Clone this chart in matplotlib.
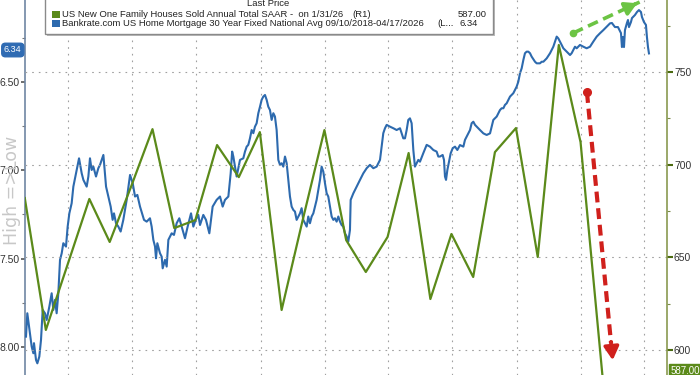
import matplotlib
matplotlib.use('Agg')
import matplotlib.pyplot as plt
import pandas as pd
from matplotlib.patches import Rectangle

BASE = pd.Timestamp('2024-01-01')

# US New One Family Houses Sold, SAAR (thousands), month-end dates
sales_months = pd.date_range('2023-10-31', periods=28, freq='ME')
sales_values = [682.0, 610.8, 646.1, 681.5, 658.3, 688.7, 719.2, 665.8, 670.1, 710.6,
                693.3, 717.6, 621.6, 670.1, 718.7, 659.3, 642.1, 661.0, 706.3, 627.5,
                662.6, 639.4, 706.8, 719.8, 650.2, 764.6, 712.2, 587.0]

# Bankrate 30Y fixed mortgage rate: days since 2024-01-01 and rate (%)
rate_days = [-60.3, -58.4, -52.2, -49.8, -48.9, -46.0, -44.1, -41.3, -38.9, -36.5,
             -33.2, -30.8, -27.0, -23.7, -21.3, -18.9, -16.6, -14.2, -11.8, -9.4,
             -7.1, -3.3, -0.9, 1.5, 4.8, 7.2, 12.0, 15.3, 19.1, 21.5,
             26.2, 28.6, 30.9, 33.3, 35.7, 39.5, 42.8, 45.2, 50.0, 53.8,
             57.1, 60.4, 63.2, 65.1, 68.0, 71.3, 74.6, 78.4, 83.2, 88.0,
             91.8, 95.1, 98.4, 102.2, 107.9, 111.7, 116.4, 118.8, 121.2, 123.6,
             125.0, 126.9, 130.7, 133.1, 134.5, 137.8, 140.2, 142.6, 147.3, 150.6,
             154.4, 158.2, 161.6, 166.3, 170.1, 174.9, 178.2, 181.5, 185.3, 187.7,
             192.4, 196.2, 201.0, 205.7, 211.4, 216.2, 220.0, 223.3, 228.1, 231.4,
             233.5,
             235.2, 239.9, 244.7, 249.4, 251.8, 254.2, 256.5, 258.9, 261.3, 263.7,
             266.0, 268.4, 270.8, 273.2, 275.5, 277.9, 280.3, 282.7, 285.0, 287.4,
             289.8, 292.2, 294.5, 296.9, 299.3, 301.7, 304.0, 306.4, 308.8, 311.2,
             313.5, 315.9, 318.3, 320.7, 323.0, 325.4, 327.8, 330.2, 332.5, 334.9,
             337.3, 339.7, 342.0, 344.4, 346.8, 349.2, 351.5, 353.9, 356.3, 358.7,
             361.0, 363.4, 365.8, 368.2, 370.5, 372.9, 375.3, 377.7, 380.0, 382.4,
             384.8, 387.2, 389.5, 391.9, 394.3, 396.7, 399.0, 401.4, 402.4, 406.2,
             410.9, 415.7, 420.4, 425.2, 429.9, 434.7, 439.4, 444.2, 446.5, 448.9,
             451.3, 453.7, 458.4, 463.2, 467.9, 472.7, 477.4, 479.8, 482.2, 484.5,
             486.9, 489.3, 491.7, 494.0, 496.4, 498.8, 501.2, 505.9, 510.7, 515.4,
             520.2, 524.9, 527.3,
             529.7, 533.5, 535.4, 536.8, 538.3, 540.2, 543.0, 544.9, 547.8, 551.1,
             554.4, 558.2, 563.0, 565.3, 567.7, 570.1, 572.5, 574.8, 577.2, 579.6,
             582.0, 586.7, 591.5, 596.2, 601.0, 603.3, 605.7, 610.5, 612.8, 615.2,
             617.6, 620.0, 622.3, 624.7, 627.1, 629.5, 634.2, 638.9, 641.3, 643.7,
             646.1, 648.5, 650.8, 653.2, 655.6, 658.0, 660.3, 665.1, 667.5, 672.2,
             674.6, 677.0, 681.7, 686.5, 691.2, 693.6, 696.0, 698.3, 700.7, 703.1,
             705.5, 710.2, 715.0, 717.3, 719.7, 722.1, 724.5, 729.2, 734.0, 738.7,
             743.5, 748.2, 753.0, 757.7, 762.5, 767.2, 772.0,
             774.7, 779.0, 783.3, 787.6, 789.0, 790.4, 791.9, 793.3, 796.1, 797.6,
             799.0, 801.8, 803.3, 807.5, 810.4, 813.2, 816.1, 817.5, 820.4, 823.2,
             824.6, 826.1, 827.5]
rate_values = [7.941, 7.809, 7.997, 8.035, 7.978, 8.073, 8.092, 8.054, 7.960, 7.790,
               7.809, 7.847, 7.771, 7.696, 7.790, 7.733, 7.809, 7.696, 7.507, 7.470,
               7.413, 7.432, 7.319, 7.244, 7.187, 7.093, 6.999, 6.933, 7.018, 7.055,
               7.093, 7.036, 6.933, 6.999, 6.980, 7.036, 6.989, 6.970, 6.914, 7.093,
               7.149, 7.206, 7.281, 7.244, 7.300, 7.319, 7.347, 7.281, 7.168, 7.027,
               7.074, 7.149, 7.140, 7.206, 7.281, 7.291, 7.272, 7.319, 7.394, 7.432,
               7.498, 7.413, 7.470, 7.489, 7.555, 7.507, 7.545, 7.394, 7.357, 7.366,
               7.300, 7.272, 7.319, 7.385, 7.319, 7.244, 7.319, 7.281, 7.253, 7.310,
               7.253, 7.281, 7.357, 7.206, 7.168, 7.149, 7.206, 7.168, 7.149, 7.018,
               6.895,
               6.923, 7.036, 6.942, 6.933, 6.895, 6.867, 6.857, 6.820, 6.773, 6.791,
               6.754, 6.735, 6.678, 6.641, 6.603, 6.584, 6.575, 6.603, 6.641, 6.660,
               6.716, 6.678, 6.697, 6.773, 6.942, 6.970, 6.961, 6.980, 6.923, 6.961,
               7.055, 7.149, 7.206, 7.225, 7.234, 7.281, 7.262, 7.244, 7.215, 7.281,
               7.300, 7.319, 7.262, 7.300, 7.262, 7.244, 7.206, 7.168, 7.112, 7.055,
               6.980, 7.008, 7.074, 7.131, 7.149, 7.206, 7.262, 7.281, 7.272, 7.291,
               7.262, 7.291, 7.310, 7.319, 7.357, 7.375, 7.404, 7.338, 7.168, 7.131,
               7.093, 7.055, 7.018, 6.989, 6.970, 6.989, 6.980, 6.942, 6.867, 6.791,
               6.763, 6.744, 6.754, 6.763, 6.773, 6.763, 6.820, 6.820, 6.773, 6.716,
               6.707, 6.735, 6.886, 6.980, 6.961, 6.942, 6.952, 6.904, 6.857, 6.867,
               6.886, 6.895, 6.923,
               6.923, 6.914, 6.942, 7.036, 7.055, 6.999, 6.942, 6.905, 6.876, 6.867,
               6.886, 6.858, 6.867, 6.829, 6.810, 6.792, 6.773, 6.735, 6.726, 6.744,
               6.754, 6.773, 6.792, 6.801, 6.792, 6.754, 6.716, 6.697, 6.679, 6.660,
               6.650, 6.650, 6.631, 6.622, 6.603, 6.584, 6.565, 6.528, 6.500, 6.452,
               6.424, 6.377, 6.339, 6.330, 6.330, 6.339, 6.358, 6.387, 6.396, 6.396,
               6.387, 6.387, 6.368, 6.339, 6.302, 6.273, 6.245, 6.255, 6.273, 6.292,
               6.311, 6.330, 6.349, 6.339, 6.321, 6.302, 6.311, 6.292, 6.302, 6.311,
               6.302, 6.273, 6.245, 6.226, 6.208, 6.189, 6.170,
               6.168, 6.191, 6.191, 6.225, 6.304, 6.247, 6.304, 6.208, 6.168, 6.151,
               6.191, 6.163, 6.140, 6.123, 6.106, 6.095, 6.106, 6.134, 6.163, 6.179,
               6.247, 6.304, 6.340]
rate_dates = BASE + pd.to_timedelta(rate_days, unit='D')

left_ticks = [6.5, 7.0, 7.5, 8.0]
right_ticks = [600, 650, 700, 750]
grid_dates = pd.date_range('2024-01-01', '2026-04-01', freq='QS')

BLUE = '#2d6aae'
GREEN = '#5b8a1a'
GRID = '#a0a0a0'
TXT = '#333333'
FONT = 'Liberation Sans'

fig = plt.figure(figsize=(7, 3.75), dpi=100)
ax = fig.add_axes([25 / 700, 0, 642 / 700, 1])
ax2 = ax.twinx()

ax.set_xlim(BASE + pd.Timedelta(days=-61.7), BASE + pd.Timedelta(days=853.2))
ax.set_ylim(8.158, 6.038)
ax2.set_ylim(586.5, 788.9)

ax.plot(rate_dates, rate_values, color=BLUE, lw=1.5, zorder=3)
ax2.plot(sales_months, sales_values, color=GREEN, lw=1.6, zorder=4)

# grids
ax.set_xticks(grid_dates)
ax.tick_params(axis='x', length=0, labelbottom=False)
ax.grid(axis='x', color=GRID, lw=0.8, linestyle=(0, (1.5, 4.5)))
ax2.grid(axis='y', color=GRID, lw=0.8, linestyle=(0, (1.5, 4.5)))

ax.set_yticks(left_ticks)
ax.set_yticklabels([f'{v:.2f}' for v in left_ticks], fontsize=7.5, color=TXT, family=FONT)
ax.set_yticks([6.25, 6.75, 7.25, 7.75], minor=True)
ax.tick_params(axis='y', which='major', direction='out', length=3, width=1.2, color='#555555', pad=1)
ax.tick_params(axis='y', which='minor', direction='out', length=2, width=0.8, color='#777777')

ax2.set_yticks(right_ticks)
ax2.set_yticklabels([str(v) for v in right_ticks], fontsize=7.5, color=TXT, family=FONT)
ax2.set_yticks([625, 675, 725, 775], minor=True)
ax2.tick_params(axis='y', which='major', direction='out', length=4, width=1.5, color='#4a6a10', pad=1)
ax2.tick_params(axis='y', which='minor', direction='out', length=2, width=0.8, color='#7a8a4a')

for a in (ax, ax2):
    a.spines['top'].set_visible(False)
    a.spines['bottom'].set_visible(False)
    a.set_facecolor('none')
ax.spines['left'].set_color('#6f86a3')
ax.spines['left'].set_linewidth(1.2)
ax.spines['right'].set_visible(False)
ax2.spines['left'].set_visible(False)
ax2.spines['right'].set_color('#8a9a50')
ax2.spines['right'].set_linewidth(1.2)

# annotation arrows
g0 = (BASE + pd.Timedelta(days=719.2), 771.0)
g1 = (BASE + pd.Timedelta(days=814.2), 787.8)
ax2.plot([g0[0], g1[0]], [g0[1], g1[1]], color='#6cc444', lw=2.6, linestyle=(0, (3, 1.6)),
         solid_capstyle='butt', dash_capstyle='butt', zorder=6)
ax2.plot([g0[0]], [g0[1]], 'o', color='#6cc444', ms=4.5, zorder=6)
ax2.annotate('', xy=g1, xytext=(BASE + pd.Timedelta(days=804.0), 786.0),
             arrowprops=dict(arrowstyle='-|>,head_length=0.7,head_width=0.4', color='#6cc444', lw=2.6),
             zorder=6)

r0 = (BASE + pd.Timedelta(days=739.1), 739.2)
r1 = (BASE + pd.Timedelta(days=776.2), 593.0)
ax2.plot([r0[0], BASE + pd.Timedelta(days=773.5)], [r0[1], 603.5], color='#d0201c', lw=3.0,
         linestyle=(0, (2.6, 1.4)), dash_capstyle='butt', zorder=6)
ax2.plot([r0[0]], [r0[1]], 'o', color='#d0201c', ms=5.5, zorder=6)
ax2.annotate('', xy=r1, xytext=(BASE + pd.Timedelta(days=773.0), 606.0),
             arrowprops=dict(arrowstyle='-|>,head_length=0.8,head_width=0.45', color='#d0201c', lw=2.5),
             zorder=6)

# y label (drawn behind the tick labels, as in the original)
fig.text(12 / 700, 1 - 190 / 375, 'High =>Low', rotation=90, ha='center', va='center',
         fontsize=12.5, color='#c8c8c8', family='DejaVu Sans', zorder=0)

# last value tags
fig.text(4 / 700, 1 - 50 / 375, '6.34', ha='left', va='center', fontsize=6.5, color='white', family=FONT,
         bbox=dict(boxstyle='round,pad=0.25,rounding_size=0.4', fc='#2f6bb3', ec='#2f6bb3'))
fig.text(671 / 700, 1 - 371 / 375, '587.00', ha='left', va='center', fontsize=7, color='white', family=FONT,
         bbox=dict(boxstyle='square,pad=0.25', fc='#5b8a1a', ec='#5b8a1a'))

# legend box
fig.patches.append(Rectangle((47 / 700, 1 - 36 / 375), 448 / 700, 0.2, transform=fig.transFigure,
                             fc='#bbbbbb', ec='none', zorder=8))
fig.patches.append(Rectangle((45 / 700, 1 - 34 / 375), 448 / 700, 0.2, transform=fig.transFigure,
                             fc='white', ec='#8a8a8a', lw=1.0, zorder=9))
fig.patches.append(Rectangle((52 / 700, 1 - 18 / 375), 8 / 700, 7 / 375, transform=fig.transFigure,
                             fc=GREEN, ec='none', zorder=10))
fig.patches.append(Rectangle((52 / 700, 1 - 27 / 375), 8 / 700, 7 / 375, transform=fig.transFigure,
                             fc=BLUE, ec='none', zorder=10))
fs = 6.8
fig.text(268 / 700, 1 - 4 / 375, 'Last Price', ha='center', va='center', fontsize=fs, color='#222222',
         family=FONT, zorder=11)
fig.text(62 / 700, 1 - 14.7 / 375, 'US New One Family Houses Sold Annual Total SAAR -  on 1/31/26',
         ha='left', va='center', fontsize=fs, color='#222222', family=FONT, zorder=11)
fig.text(352 / 700, 1 - 14.7 / 375, '(R1)', ha='left', va='center', fontsize=fs, color='#222222',
         family=FONT, zorder=11)
fig.text(487 / 700, 1 - 14.7 / 375, '587.00', ha='right', va='center', fontsize=fs, color='#222222',
         family=FONT, zorder=11)
fig.text(62 / 700, 1 - 23.5 / 375,
         'Bankrate.com US Home Mortgage 30 Year Fixed National Avg 09/10/2018-04/17/2026',
         ha='left', va='center', fontsize=fs, color='#222222', family=FONT, zorder=11)
fig.text(437 / 700, 1 - 23.5 / 375, '(L...', ha='left', va='center', fontsize=fs, color='#222222',
         family=FONT, zorder=11)
fig.text(478 / 700, 1 - 23.5 / 375, '6.34', ha='right', va='center', fontsize=fs, color='#222222',
         family=FONT, zorder=11)

fig.savefig('out.png', dpi=100, facecolor='white')
